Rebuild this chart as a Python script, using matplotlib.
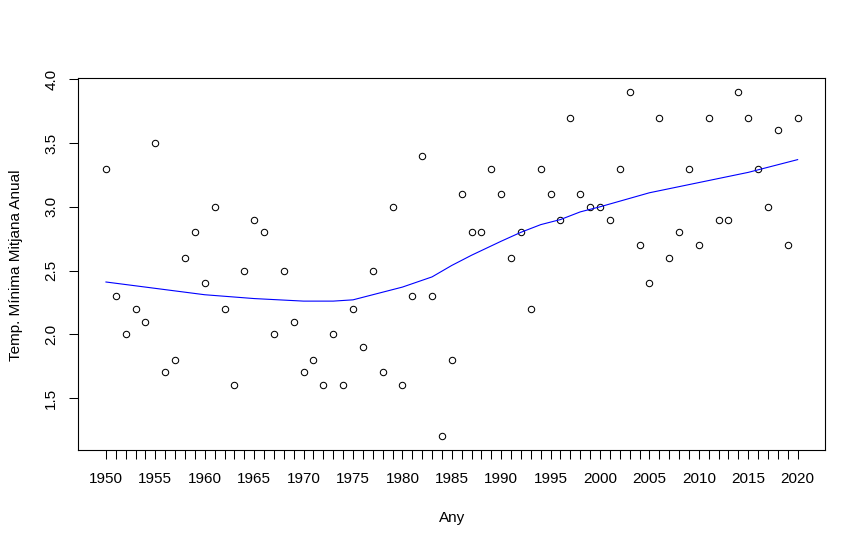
import matplotlib
matplotlib.use("Agg")
import matplotlib.pyplot as plt
import numpy as np

plt.rcParams["font.family"] = ["Liberation Sans", "DejaVu Sans"]

years = np.arange(1950, 2021)
tmin = [3.3, 2.3, 2.0, 2.2, 2.1, 3.5, 1.7, 1.8, 2.6, 2.8,
        2.4, 3.0, 2.2, 1.6, 2.5, 2.9, 2.8, 2.0, 2.5, 2.1,
        1.7, 1.8, 1.6, 2.0, 1.6, 2.2, 1.9, 2.5, 1.7, 3.0,
        1.6, 2.3, 3.4, 2.3, 1.2, 1.8, 3.1, 2.8, 2.8, 3.3,
        3.1, 2.6, 2.8, 2.2, 3.3, 3.1, 2.9, 3.7, 3.1, 3.0,
        3.0, 2.9, 3.3, 3.9, 2.7, 2.4, 3.7, 2.6, 2.8, 3.3,
        2.7, 3.7, 2.9, 2.9, 3.9, 3.7, 3.3, 3.0, 3.6, 2.7, 3.7]

# smoothed curve
smooth_x = [1950, 1955, 1960, 1965, 1970, 1973, 1975, 1977, 1979, 1980,
            1983, 1985, 1987, 1990, 1992, 1994, 1996, 1998, 2000, 2005,
            2010, 2015, 2020]
smooth_y = [2.41, 2.36, 2.31, 2.28, 2.26, 2.26, 2.27, 2.31, 2.35, 2.37,
            2.45, 2.54, 2.62, 2.73, 2.80, 2.86, 2.90, 2.96, 3.00, 3.11,
            3.19, 3.27, 3.37]

fig = plt.figure(figsize=(8.66, 5.48), dpi=100)
ax = fig.add_axes([78.3/866, 1-450/548, (825.3-78.3)/866, (450-78.3)/548])

ax.plot(years, tmin, "o", mfc="none", mec="black", ms=4.6, mew=0.75)
ax.plot(smooth_x, smooth_y, color="blue", lw=0.8)

ax.set_xlim(1947.2, 2022.8)
ax.set_ylim(1.092, 4.008)
ax.set_xticks(years)
ax.set_xticklabels([str(y) if y % 5 == 0 else "" for y in years])
ax.set_yticks([1.5, 2.0, 2.5, 3.0, 3.5, 4.0])
ax.set_yticklabels(["1.5", "2.0", "2.5", "3.0", "3.5", "4.0"], rotation=90, va="center")
ax.tick_params(axis="both", direction="out", length=6.5, width=0.75, labelsize=11, colors="black")
ax.tick_params(axis="x", pad=9)
ax.tick_params(axis="y", pad=8)
for s in ax.spines.values():
    s.set_linewidth(0.8)

fig.text(452/866, 1-518/548, "Any", ha="center", va="center", fontsize=11)
fig.text(16/866, 1-265/548, "Temp. Mínima Mitjana Anual", ha="center", va="center",
         rotation=90, fontsize=11)

fig.savefig("out.png", dpi=100)
